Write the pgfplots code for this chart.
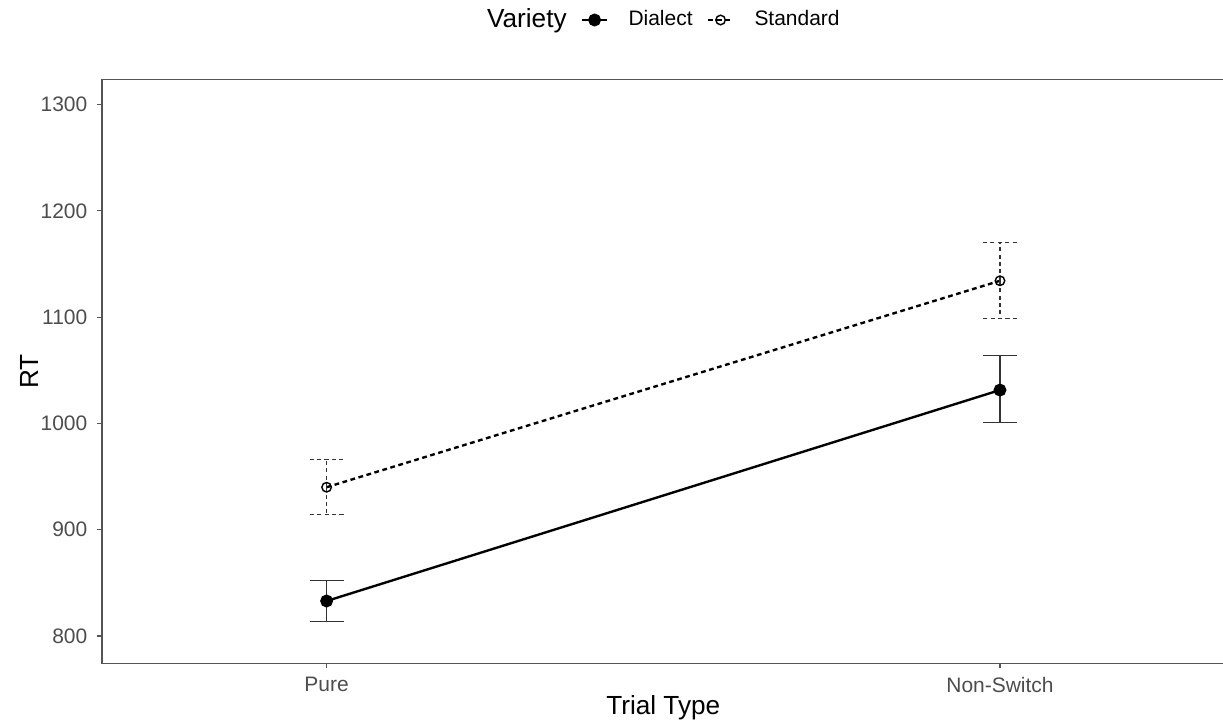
\documentclass[border=0pt]{standalone}
\usepackage{fontspec}
\setmainfont{Liberation Sans}
\usepackage{pgfplots}
\pgfplotsset{compat=1.18}
\usepackage{pgfplotstable}

\definecolor{tickgray}{HTML}{4D4D4D}
\definecolor{framegray}{HTML}{555555}
\definecolor{errgray}{HTML}{333333}

% x: 1 = Pure, 2 = Non-Switch ; y, upper, lower
\pgfplotstableread{
x y ep em
1 833.0 19.0 19.5
2 1031.4 32.6 30.7
}\dialect
\pgfplotstableread{
x y ep em
1 940.0 26.0 26.0
2 1134.2 36.2 35.3
}\standard

\begin{document}
\begin{tikzpicture}
\begin{axis}[
    name=ax,
    scale only axis,
    width=471.5pt, height=245.3pt,
    xmin=0.6663, xmax=2.3337,
    ymin=774.3, ymax=1323.7,
    xtick={1,2},
    xticklabels={Pure,Non-Switch},
    ytick={800,900,1000,1100,1200,1300},
    /pgf/number format/assume math mode=true,
    /pgf/number format/1000 sep={},
    tick label style={font=\fontsize{8.8}{10}\selectfont, text=tickgray},
    yticklabel style={xshift=-0.5pt},
    tick align=outside,
    tick pos=left,
    major tick length=2.1pt,
    every tick/.style={framegray, line width=0.5pt},
    axis line style={framegray, line width=0.6pt},
    xlabel={Trial Type},
    ylabel={RT},
    label style={font=\fontsize{11}{13}\selectfont},
    xlabel style={yshift=5.5pt},
    ylabel style={yshift=-6pt},
    legend columns=3,
    legend style={
        draw=none, fill=none,
        at={(0.491,1.1015)}, anchor=center,
        font=\fontsize{8.8}{10}\selectfont,
        /tikz/every odd column/.append style={column sep=8.5pt},
        /tikz/every even column/.append style={column sep=6pt},
        nodes={inner xsep=0pt},
    },
    legend image code/.code={
        \draw[mark repeat=2, mark phase=2]
            plot coordinates {(0pt,0pt) (5.25pt,0pt) (10.5pt,0pt)};
    },
]

\addlegendimage{empty legend}
\addlegendentry{\fontsize{11}{13}\selectfont Variety}

\addplot[
    black, line width=1pt,
    mark=*, mark size=2.2pt, mark options={solid, fill=black},
    error bars/.cd, y dir=both, y explicit,
    error bar style={solid, errgray, line width=0.55pt},
    error mark options={rotate=90, mark size=7.1pt, errgray, line width=0.55pt, solid},
] table[x=x, y=y, y error plus=ep, y error minus=em] {\dialect};
\addlegendentry{Dialect}

\addplot[
    black, line width=1pt, dash pattern=on 2pt off 1.5pt,
    mark=o, mark size=2pt, mark options={solid, fill=white, line width=0.6pt},
    error bars/.cd, y dir=both, y explicit,
    error bar style={errgray, line width=0.5pt, dash pattern=on 1.7pt off 1.4pt},
    error mark options={rotate=90, mark size=7.1pt, errgray, line width=0.5pt, dash pattern=on 1.7pt off 1.4pt},
] table[x=x, y=y, y error plus=ep, y error minus=em] {\standard};
\addlegendentry{Standard}

\end{axis}
\pgfresetboundingbox
\path ([shift={(-42.8pt,-26.3pt)}]ax.south west) rectangle ([shift={(-0.7pt,33.3pt)}]ax.north east);
\end{tikzpicture}
\end{document}
